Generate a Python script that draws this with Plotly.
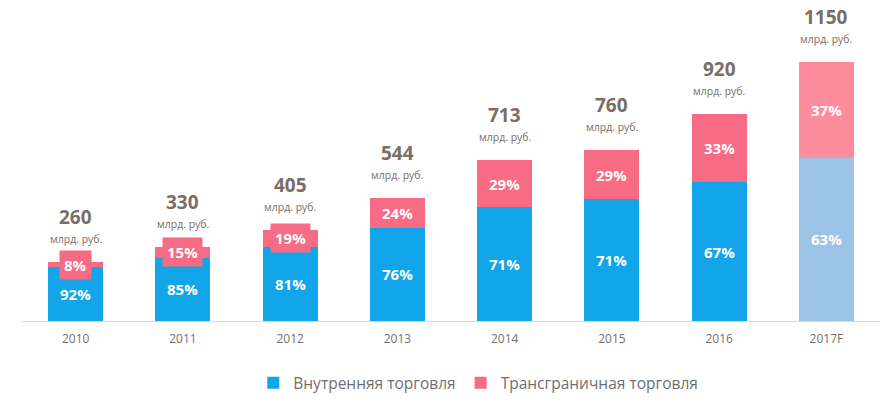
import plotly.graph_objects as go

years = ["2010", "2011", "2012", "2013", "2014", "2015", "2016", "2017F"]
totals = [260, 330, 405, 544, 713, 760, 920, 1150]
domestic_pct = [92, 85, 81, 76, 71, 71, 67, 63]
cross_pct = [8, 15, 19, 24, 29, 29, 33, 37]
unit = "млрд. руб."

BLUE = "#12a5ea"
PINK = "#f76b84"
BLUE_F = "#9dc3e6"
PINK_F = "#ff8c9d"
TXT = "#7a6e66"
FONT = "Open Sans"

dom_vals = [t * p / 100 for t, p in zip(totals, domestic_pct)]
cross_vals = [t * p / 100 for t, p in zip(totals, cross_pct)]
blue_cols = [BLUE_F if y.endswith("F") else BLUE for y in years]
pink_cols = [PINK_F if y.endswith("F") else PINK for y in years]

fig = go.Figure()
fig.add_bar(x=years, y=dom_vals, name="Внутренняя торговля",
            marker=dict(color=blue_cols, line=dict(width=0)), hoverinfo="skip")
fig.add_bar(x=years, y=cross_vals, name="Трансграничная торговля",
            marker=dict(color=pink_cols, line=dict(width=0)), hoverinfo="skip")

ann = []
for i, y in enumerate(years):
    d = dom_vals[i]
    c = cross_vals[i]
    ann.append(dict(x=i, y=d / 2, text=f"<b>{domestic_pct[i]}%</b>", showarrow=False,
                    font=dict(family=FONT, size=15, color="white")))
    ann.append(dict(x=i, y=d + c / 2, text=f"<b>{cross_pct[i]}%</b>", showarrow=False,
                    font=dict(family=FONT, size=15, color="white"),
                    bgcolor=pink_cols[i], borderpad=4))
    ann.append(dict(x=i, y=totals[i], text=f"<b>{totals[i]}</b>", showarrow=False,
                    yanchor="middle", yshift=45,
                    font=dict(family=FONT, size=19, color=TXT)))
    ann.append(dict(x=i, y=totals[i], text=unit, showarrow=False,
                    yanchor="middle", yshift=23,
                    font=dict(family=FONT, size=10.5, color=TXT)))

fig.update_layout(
    barmode="stack",
    bargap=0.487,
    width=894, height=416,
    margin=dict(l=22, r=14, t=5, b=95),
    paper_bgcolor="white", plot_bgcolor="white",
    font=dict(family=FONT, color=TXT),
    annotations=ann,
    showlegend=True,
    hovermode=False,
    legend=dict(orientation="h", xref="container", yref="container",
                x=0.535, y=0.079, xanchor="center", yanchor="middle",
                font=dict(family=FONT, size=15.5, color="#6f6f6f"),
                itemwidth=30, traceorder="normal"),
    xaxis=dict(type="category", range=[-0.5, len(years) - 0.5], showline=True,
               linecolor="#d9d9d9", linewidth=1,
               ticks="outside", ticklen=7, tickcolor="rgba(0,0,0,0)",
               tickfont=dict(family=FONT, size=12, color=TXT),
               showgrid=False, fixedrange=True),
    yaxis=dict(visible=False, range=[0, 1403], showgrid=False, fixedrange=True),
)

fig.write_html("out.html", config={"displayModeBar": False},
               post_script="document.body.style.margin='0px';")
